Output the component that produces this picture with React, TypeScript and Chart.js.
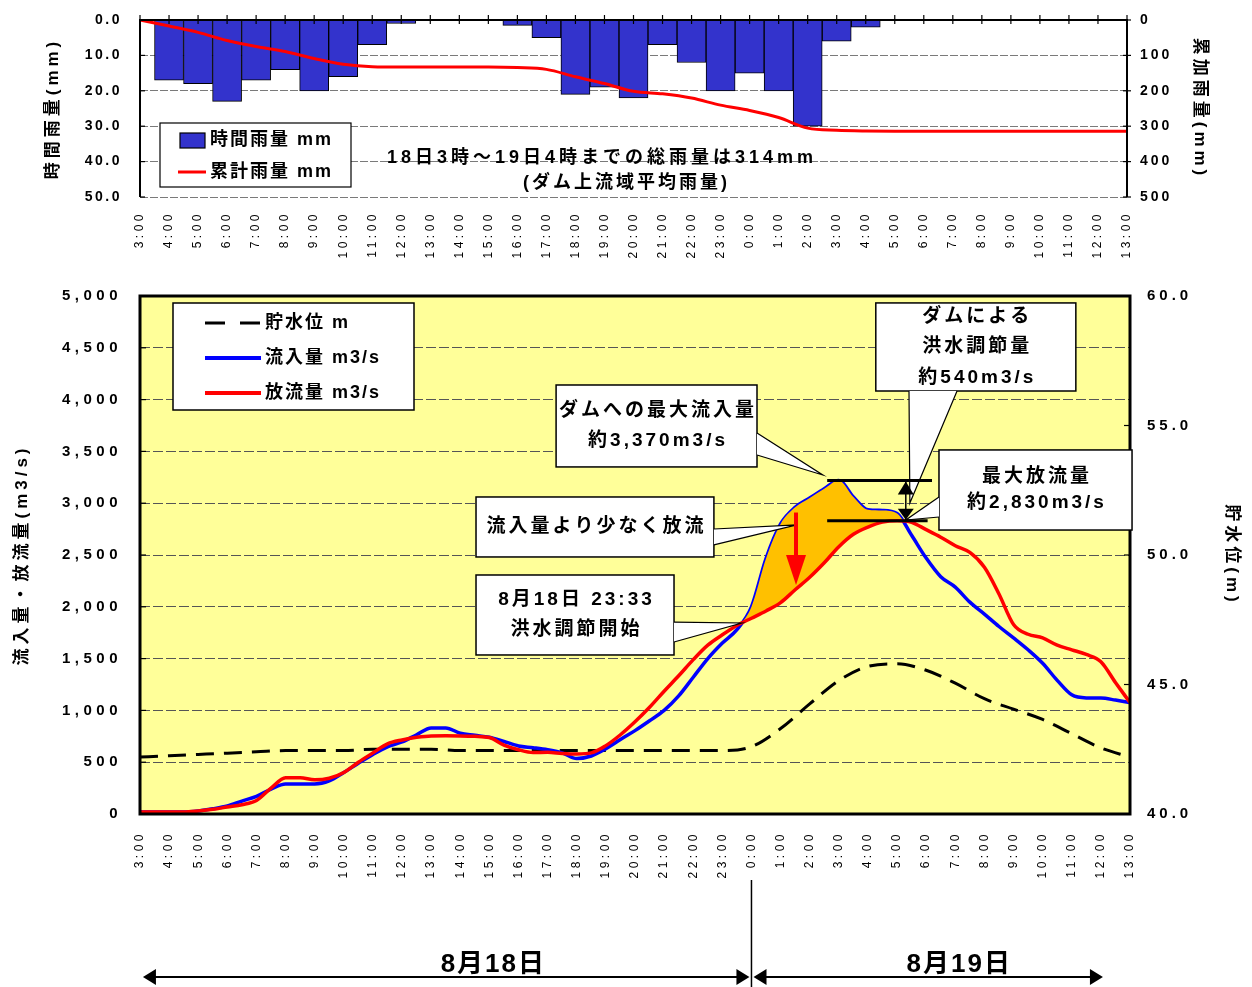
import React, { useEffect, useRef } from 'react';
import { Chart, registerables } from 'chart.js';

Chart.register(...registerables);

const FONT = "'Liberation Sans', Arial, 'Noto Sans CJK JP', sans-serif";

// ---------------- data ----------------
const timeLabels = [
  '3:00', '4:00', '5:00', '6:00', '7:00', '8:00', '9:00', '10:00', '11:00', '12:00',
  '13:00', '14:00', '15:00', '16:00', '17:00', '18:00', '19:00', '20:00', '21:00', '22:00',
  '23:00', '0:00', '1:00', '2:00', '3:00', '4:00', '5:00', '6:00', '7:00', '8:00',
  '9:00', '10:00', '11:00', '12:00', '13:00',
];

// hourly rainfall (mm), one per time label
const hourlyRain = [
  0, 17, 18, 23, 17, 14, 20, 16, 7, 1,
  0, 0, 0, 1.5, 5, 21, 19, 22, 7, 12,
  20, 15, 20, 30, 6, 2, 0, 0, 0, 0,
  0, 0, 0, 0, 0,
];

// cumulative rainfall (mm), one per time label
const cumulativeRain = [
  0, 17, 35, 58, 75, 89, 109, 125, 132, 133,
  133, 133, 133, 134.5, 139.5, 160.5, 179.5, 201.5, 208.5, 220.5,
  240.5, 255.5, 275.5, 305.5, 311.5, 313.5, 314, 314, 314, 314,
  314, 314, 314, 314, 314,
];

// hours after 8/18 3:00 (half-hourly) for the discharge series
const flowHours = [
  0, 0.5, 1, 1.5, 2, 2.5, 3, 3.5, 4, 4.5, 5, 5.5, 6, 6.5, 7, 7.5, 8, 8.5, 9, 9.5,
  10, 10.5, 11, 11.5, 12, 12.5, 13, 13.5, 14, 14.5, 15, 15.5, 16, 16.5, 17, 17.5, 18, 18.5, 19, 19.5,
  20, 20.5, 21, 21.5, 22, 22.5, 23, 23.5, 24, 24.5, 25, 25.5, 26, 26.5, 27, 27.5, 28, 28.5, 29, 29.5,
  30, 30.5, 31, 31.5, 32, 32.5, 33, 33.5, 34,
];

// inflow (m3/s)
const inflow = [
  20, 20, 20, 20, 30, 50, 77, 125, 170, 240, 290, 290, 290, 320, 400, 490, 575, 648, 695, 765,
  830, 830, 780, 760, 740, 700, 657, 640, 620, 590, 535, 560, 630, 720, 805, 900, 1000, 1140, 1320, 1500,
  1650, 1780, 2000, 2466, 2800, 2960, 3050, 3140, 3220, 3060, 2937, 2930, 2900, 2690, 2470, 2290, 2190, 2045, 1930, 1810,
  1700, 1585, 1455, 1290, 1150, 1120, 1119, 1100, 1076,
];

// outflow (m3/s)
const outflow = [
  20, 20, 20, 20, 30, 45, 68, 90, 130, 250, 350, 350, 330, 345, 400, 500, 590, 677, 715, 740,
  754, 755, 754, 750, 738, 665, 620, 593, 595, 585, 580, 590, 660, 765, 890, 1030, 1185, 1334, 1490, 1630,
  1730, 1820, 1890, 1960, 2040, 2165, 2285, 2425, 2580, 2700, 2770, 2817, 2830, 2815, 2745, 2672, 2590, 2525, 2382, 2124,
  1830, 1735, 1700, 1630, 1585, 1540, 1470, 1270, 1076,
];

// reservoir water level (m), hourly
const levelHours = [
  0, 1, 2, 3, 4, 5, 6, 7, 8, 9, 10, 11, 12, 13, 14, 15, 16, 17, 18, 19,
  20, 21, 22, 23, 24, 25, 26, 27, 28, 29, 30, 31, 32, 33, 34,
];
const waterLevel = [
  42.2, 42.25, 42.3, 42.35, 42.4, 42.45, 42.45, 42.45, 42.5, 42.5,
  42.5, 42.45, 42.45, 42.45, 42.45, 42.45, 42.45, 42.45, 42.45, 42.45,
  42.45, 42.6, 43.3, 44.25, 45.15, 45.7, 45.8, 45.55, 45.05, 44.45,
  44.05, 43.65, 43.1, 42.55, 42.2,
];

// flood control period (hours) used for the shaded area
const controlStart = 20.5;
const controlEnd = 26.5;

// ---------------- annotation layout (data coordinates) ----------------
const callouts = [
  { lines: ['ダムによる', '洪水調節量', '約540m3/s'], box: [25.27, 4933, 32.14, 4083], gap: 30.5,
    wedge: [[26.41, 4083], [26.44, 3002], [28.06, 4083]] },
  { lines: ['ダムへの最大流入量', '約3,370m3/s'], box: [14.29, 4141, 21.19, 3350], gap: 30,
    wedge: [[21.19, 3678], [23.45, 3272], [21.19, 3465]] },
  { lines: ['最大放流量', '約2,830m3/s'], box: [27.44, 3514, 34.07, 2741], gap: 26,
    wedge: [[27.44, 3060], [26.3, 2838], [27.44, 2867]] },
  { lines: ['流入量より少なく放流'], box: [11.54, 3060, 19.71, 2481], gap: 30,
    wedge: [[19.71, 2751], [22.56, 2790], [19.71, 2597]] },
  { lines: ['8月18日 23:33', '洪水調節開始'], box: [11.54, 2307, 18.34, 1535], gap: 30,
    wedge: [[18.34, 1853], [20.67, 1844], [18.34, 1660]] },
];
const peakLineRange = [23.6, 27.2];
const peakOutLineRange = [23.6, 27.05];
const doubleArrowHour = 26.3;
const redArrow = { hour: 22.53, from: 2910, to: 2210 };
const dayLabels = [{ text: '8月18日', hour: 12.1 }, { text: '8月19日', hour: 28.1 }];
const dayArrows = [[0.1, 20.93], [21.07, 33.07]];
const dayDivider = 21;

// ---------------- helpers ----------------
function spacingPlugin(map: Record<string, { labels: number; title: number }>) {
  return {
    id: 'letterSpacing',
    afterUpdate(chart: any) {
      Object.keys(chart.scales).forEach((id) => {
        const s: any = chart.scales[id];
        const cfg = map[id];
        if (!cfg || s.__wrapped) return;
        s.__wrapped = true;
        const dl = s.drawLabels;
        const dt = s.drawTitle;
        s.drawLabels = function (area: any) {
          const c: any = this.ctx;
          c.save();
          c.letterSpacing = cfg.labels + 'px';
          dl.call(this, area);
          c.restore();
        };
        s.drawTitle = function () {
          const c: any = this.ctx;
          c.save();
          c.letterSpacing = cfg.title + 'px';
          dt.call(this);
          c.restore();
        };
      });
    },
  };
}

function text(ctx: any, s: string, x: number, y: number, size: number, spacing: number, align: string = 'center') {
  ctx.save();
  ctx.font = `bold ${size}px ${FONT}`;
  ctx.letterSpacing = spacing + 'px';
  ctx.textAlign = align;
  ctx.textBaseline = 'middle';
  ctx.fillStyle = '#000';
  const dx = align === 'center' ? spacing / 2 : 0;
  ctx.fillText(s, x + dx, y);
  ctx.restore();
}

function seg(ctx: any, x1: number, y1: number, x2: number, y2: number) {
  ctx.beginPath();
  ctx.moveTo(x1, y1);
  ctx.lineTo(x2, y2);
  ctx.stroke();
}

function tri(ctx: any, p: number[][]) {
  ctx.beginPath();
  ctx.moveTo(p[0][0], p[0][1]);
  ctx.lineTo(p[1][0], p[1][1]);
  ctx.lineTo(p[2][0], p[2][1]);
  ctx.closePath();
  ctx.fill();
}

const tickFont = (size: number, bold = true) => ({ family: FONT, size, weight: bold ? 'bold' : 'normal' });

const fitY = (w: number) => (s: any) => {
  s.width = w;
  s.paddingTop = 0;
  s.paddingBottom = 0;
};

// ---------------- top chart ----------------
const topDecor = {
  id: 'topDecor',
  afterDatasetsDraw(chart: any) {
    const { ctx, chartArea: a, scales } = chart;
    ctx.save();
    ctx.strokeStyle = '#000';
    ctx.lineWidth = 1.2;
    timeLabels.forEach((_, i) => {
      const x = scales.x.getPixelForValue(i);
      seg(ctx, x, a.top - 5, x, a.top + 4);
    });
    scales.y.ticks.forEach((t: any) => {
      const y = scales.y.getPixelForValue(t.value);
      seg(ctx, a.left, y, a.left + 5, y);
    });
    scales.y2.ticks.forEach((t: any) => {
      const y = scales.y2.getPixelForValue(t.value);
      seg(ctx, a.right - 4, y, a.right + 4, y);
    });
    ctx.lineWidth = 2;
    ctx.beginPath();
    ctx.moveTo(a.left, a.bottom);
    ctx.lineTo(a.left, a.top);
    ctx.lineTo(a.right, a.top);
    ctx.lineTo(a.right, a.bottom);
    ctx.stroke();
    ctx.restore();
  },
  afterDraw(chart: any) {
    const { ctx, chartArea: a } = chart;
    ctx.save();
    const lx = a.left + 20, ly = a.top + 103;
    ctx.fillStyle = '#fff';
    ctx.fillRect(lx, ly, 191, 64);
    ctx.strokeStyle = '#000';
    ctx.lineWidth = 1.2;
    ctx.strokeRect(lx, ly, 191, 64);
    ctx.fillStyle = '#3333CC';
    ctx.fillRect(lx + 20, ly + 10, 25, 15);
    ctx.strokeRect(lx + 20, ly + 10, 25, 15);
    ctx.strokeStyle = '#FF0000';
    ctx.lineWidth = 3;
    seg(ctx, lx + 18, ly + 49, lx + 46, ly + 49);
    ctx.restore();
    text(ctx, '時間雨量 mm', lx + 50, ly + 17, 18, 2, 'left');
    text(ctx, '累計雨量 mm', lx + 50, ly + 49, 18, 2, 'left');
    text(ctx, '18日3時～19日4時までの総雨量は314mm', a.left + 460, a.top + 138, 18, 4);
    text(ctx, '(ダム上流域平均雨量)', a.left + 485, a.top + 163, 18, 3);
  },
};

function topConfig(): any {
  return {
    type: 'bar',
    data: {
      labels: timeLabels,
      datasets: [
        {
          type: 'line', label: '累計雨量 mm', data: cumulativeRain, yAxisID: 'y2',
          borderColor: '#FF0000', borderWidth: 3, pointRadius: 0,
          cubicInterpolationMode: 'monotone', order: 1, fill: false,
        },
        {
          type: 'bar', label: '時間雨量 mm', data: hourlyRain, yAxisID: 'y',
          backgroundColor: '#3333CC', borderColor: '#000', borderWidth: 1,
          barPercentage: 1, categoryPercentage: 1, order: 2,
        },
      ],
    },
    options: {
      responsive: false,
      animation: false,
      events: [],
      layout: { padding: { top: 20, left: 0, right: 0, bottom: 0 } },
      plugins: { legend: { display: false }, tooltip: { enabled: false } },
      scales: {
        x: {
          type: 'category', offset: false,
          grid: { display: false, drawTicks: false },
          border: { display: false },
          ticks: { autoSkip: false, maxRotation: 90, minRotation: 90, padding: 14, color: '#000', font: tickFont(12, false) },
          afterFit: (s: any) => { s.height = 68; },
        },
        y: {
          position: 'left', reverse: true, min: 0, max: 50,
          ticks: { stepSize: 10, padding: 18, color: '#000', font: tickFont(14), callback: (v: any) => Number(v).toFixed(1) },
          grid: { color: '#7a7a7a', lineWidth: 1, drawTicks: false },
          border: { display: false, dash: [8, 2] },
          title: { display: true, text: '時間雨量(mm)', color: '#000', font: tickFont(17), padding: { top: 43, bottom: 0 } },
          afterFit: fitY(140),
        },
        y2: {
          position: 'right', reverse: true, min: 0, max: 500,
          ticks: { stepSize: 100, padding: 13, color: '#000', font: tickFont(14) },
          grid: { display: false, drawTicks: false },
          border: { display: false },
          title: { display: true, text: '累加雨量(mm)', color: '#000', font: tickFont(17), padding: { top: 42, bottom: 0 } },
          afterFit: fitY(125),
        },
      },
    },
    plugins: [
      spacingPlugin({ x: { labels: 3.5, title: 0 }, y: { labels: 2.5, title: 4 }, y2: { labels: 3, title: 4 } }),
      topDecor,
    ],
  };
}

// ---------------- bottom chart ----------------
const bottomDecor = {
  id: 'bottomDecor',
  beforeDraw(chart: any) {
    const { ctx, chartArea: a } = chart;
    ctx.save();
    ctx.fillStyle = '#FFFF99';
    ctx.fillRect(a.left, a.top, a.right - a.left, a.bottom - a.top);
    ctx.restore();
  },
  afterDatasetsDraw(chart: any) {
    const { ctx, chartArea: a, scales } = chart;
    ctx.save();
    ctx.strokeStyle = '#000';
    ctx.lineWidth = 1.2;
    scales.y.ticks.forEach((t: any) => {
      const y = scales.y.getPixelForValue(t.value);
      seg(ctx, a.left, y, a.left + 6, y);
    });
    scales.y2.ticks.forEach((t: any) => {
      const y = scales.y2.getPixelForValue(t.value);
      seg(ctx, a.right - 6, y, a.right, y);
    });
    ctx.lineWidth = 3;
    ctx.strokeRect(a.left, a.top, a.right - a.left, a.bottom - a.top);
    ctx.restore();
  },
  afterDraw(chart: any) {
    const { ctx, chartArea: a, scales } = chart;
    const X = (h: number) => scales.x.getPixelForValue(h);
    const Y = (v: number) => scales.y.getPixelForValue(v);

    // legend
    ctx.save();
    const lx = a.left + 33, ly = a.top + 7;
    ctx.fillStyle = '#fff';
    ctx.fillRect(lx, ly, 241, 107);
    ctx.strokeStyle = '#000';
    ctx.lineWidth = 1.5;
    ctx.strokeRect(lx, ly, 241, 107);
    ctx.lineWidth = 3;
    ctx.setLineDash([20, 15]);
    seg(ctx, lx + 32, ly + 20, lx + 88, ly + 20);
    ctx.setLineDash([]);
    ctx.lineWidth = 4;
    ctx.strokeStyle = '#0000FF';
    seg(ctx, lx + 32, ly + 55, lx + 88, ly + 55);
    ctx.strokeStyle = '#FF0000';
    seg(ctx, lx + 32, ly + 90, lx + 88, ly + 90);
    ctx.restore();
    text(ctx, '貯水位 m', lx + 92, ly + 20, 18, 2, 'left');
    text(ctx, '流入量 m3/s', lx + 92, ly + 55, 18, 2, 'left');
    text(ctx, '放流量 m3/s', lx + 92, ly + 90, 18, 2, 'left');

    // callouts
    callouts.forEach((c) => {
      const x1 = X(c.box[0]), y1 = Y(c.box[1]), x2 = X(c.box[2]), y2 = Y(c.box[3]);
      ctx.save();
      ctx.fillStyle = '#fff';
      ctx.strokeStyle = '#000';
      ctx.lineWidth = 1.5;
      ctx.fillRect(x1, y1, x2 - x1, y2 - y1);
      ctx.strokeRect(x1, y1, x2 - x1, y2 - y1);
      const w = c.wedge.map(([h, v]) => [X(h), Y(v)]);
      tri(ctx, w);
      ctx.lineWidth = 1.2;
      ctx.beginPath();
      ctx.moveTo(w[0][0], w[0][1]);
      ctx.lineTo(w[1][0], w[1][1]);
      ctx.lineTo(w[2][0], w[2][1]);
      ctx.stroke();
      ctx.restore();
      const cy = (y1 + y2) / 2;
      const n = c.lines.length;
      c.lines.forEach((s, i) => text(ctx, s, (x1 + x2) / 2, cy + (i - (n - 1) / 2) * c.gap, 19, 3));
    });

    // peak lines & double arrow
    const peakIn = Math.max(...inflow);
    const peakOut = Math.max(...outflow);
    ctx.save();
    ctx.strokeStyle = '#000';
    ctx.fillStyle = '#000';
    ctx.lineWidth = 3;
    seg(ctx, X(peakLineRange[0]), Y(peakIn), X(peakLineRange[1]), Y(peakIn));
    seg(ctx, X(peakOutLineRange[0]), Y(peakOut), X(peakOutLineRange[1]), Y(peakOut));
    const dx = X(doubleArrowHour), yt = Y(peakIn), yb = Y(peakOut);
    ctx.lineWidth = 1.5;
    seg(ctx, dx, yt, dx, yb);
    tri(ctx, [[dx, yt + 1], [dx - 8, yt + 14], [dx + 8, yt + 14]]);
    tri(ctx, [[dx, yb - 1], [dx - 8, yb - 12], [dx + 8, yb - 12]]);

    // red arrow
    const rx = X(redArrow.hour), ry1 = Y(redArrow.from), ry2 = Y(redArrow.to);
    ctx.strokeStyle = '#FF0000';
    ctx.fillStyle = '#FF0000';
    ctx.lineWidth = 4;
    seg(ctx, rx, ry1, rx, ry2 - 28);
    tri(ctx, [[rx, ry2], [rx - 10, ry2 - 30], [rx + 10, ry2 - 30]]);
    ctx.restore();

    // day axis
    ctx.save();
    ctx.strokeStyle = '#000';
    ctx.fillStyle = '#000';
    ctx.lineWidth = 1.5;
    const xd = X(dayDivider);
    seg(ctx, xd, a.bottom + 66, xd, chart.height);
    const ay = a.bottom + 163;
    dayArrows.forEach(([h1, h2]) => {
      const xa = X(h1), xb = X(h2);
      ctx.lineWidth = 2;
      seg(ctx, xa + 6, ay, xb - 6, ay);
      tri(ctx, [[xa, ay], [xa + 13, ay - 8], [xa + 13, ay + 8]]);
      tri(ctx, [[xb, ay], [xb - 13, ay - 8], [xb - 13, ay + 8]]);
    });
    ctx.restore();
    dayLabels.forEach((d) => text(ctx, d.text, X(d.hour), a.bottom + 151, 26, 2));
  },
};

function bottomConfig(): any {
  const inflowPts = flowHours.map((h, i) => ({ x: h, y: inflow[i] }));
  const outflowPts = flowHours.map((h, i) => ({ x: h, y: outflow[i] }));
  const fillPts = flowHours.map((h, i) => ({ x: h, y: h >= controlStart && h <= controlEnd ? inflow[i] : null }));
  const levelPts = levelHours.map((h, i) => ({ x: h, y: waterLevel[i] }));
  return {
    type: 'line',
    data: {
      datasets: [
        {
          label: '貯水位 m', data: levelPts, yAxisID: 'y2', borderColor: '#000', borderWidth: 3,
          borderDash: [18, 10], pointRadius: 0, cubicInterpolationMode: 'monotone', order: 4, fill: false,
        },
        {
          label: '流入量 m3/s', data: inflowPts, yAxisID: 'y', borderColor: '#0000FF', borderWidth: 3.5,
          pointRadius: 0, cubicInterpolationMode: 'monotone', order: 3, fill: false,
        },
        {
          label: '洪水調節', data: fillPts, yAxisID: 'y', borderColor: 'rgba(0,0,0,0)', borderWidth: 0,
          pointRadius: 0, cubicInterpolationMode: 'monotone', order: 2, spanGaps: false,
          fill: { target: 3, above: '#FFC000', below: 'rgba(0,0,0,0)' },
        },
        {
          label: '放流量 m3/s', data: outflowPts, yAxisID: 'y', borderColor: '#FF0000', borderWidth: 3.5,
          pointRadius: 0, cubicInterpolationMode: 'monotone', order: 1, fill: false,
        },
      ],
    },
    options: {
      responsive: false,
      animation: false,
      events: [],
      layout: { padding: { top: 31, left: 0, right: 0, bottom: 0 } },
      plugins: { legend: { display: false }, tooltip: { enabled: false } },
      scales: {
        x: {
          type: 'linear', min: 0, max: 34,
          grid: { display: false, drawTicks: false },
          border: { display: false },
          ticks: {
            stepSize: 1, maxTicksLimit: 100, autoSkip: false, maxRotation: 90, minRotation: 90, padding: 17,
            color: '#000', font: tickFont(12, false),
            callback: (v: any) => timeLabels[v] ?? '',
          },
          afterFit: (s: any) => { s.height = 173; },
        },
        y: {
          position: 'left', min: 0, max: 5000,
          ticks: { stepSize: 500, padding: 18, color: '#000', font: tickFont(15), callback: (v: any) => Number(v).toLocaleString('en-US') },
          grid: { color: '#555', lineWidth: 1, drawTicks: false },
          border: { display: false, dash: [10, 3] },
          title: { display: true, text: '流入量・放流量(m3/s)', color: '#000', font: tickFont(17), padding: { top: 12, bottom: 0 } },
          afterFit: fitY(140),
        },
        y2: {
          position: 'right', min: 40, max: 60,
          ticks: { stepSize: 5, padding: 17, color: '#000', font: tickFont(15), callback: (v: any) => Number(v).toFixed(1) },
          grid: { display: false, drawTicks: false },
          border: { display: false },
          title: { display: true, text: '貯水位(m)', color: '#000', font: tickFont(17), padding: { top: 10, bottom: 0 } },
          afterFit: fitY(122),
        },
      },
    },
    plugins: [
      spacingPlugin({ x: { labels: 3.5, title: 0 }, y: { labels: 4.5, title: 4 }, y2: { labels: 4, title: 4 } }),
      bottomDecor,
    ],
  };
}

export default function App() {
  const topRef = useRef<HTMLCanvasElement>(null);
  const botRef = useRef<HTMLCanvasElement>(null);
  useEffect(() => {
    document.body.style.margin = '0';
    const top = new Chart(topRef.current as HTMLCanvasElement, topConfig());
    const bot = new Chart(botRef.current as HTMLCanvasElement, bottomConfig());
    return () => {
      top.destroy();
      bot.destroy();
    };
  }, []);
  return (
    <div style={{ position: 'relative', width: 1252, height: 987, overflow: 'hidden', background: '#fff' }}>
      <canvas ref={topRef} width={1252} height={265}
        style={{ position: 'absolute', left: 0, top: 0, width: 1252, height: 265 }} />
      <canvas ref={botRef} width={1252} height={722}
        style={{ position: 'absolute', left: 0, top: 265, width: 1252, height: 722 }} />
    </div>
  );
}
